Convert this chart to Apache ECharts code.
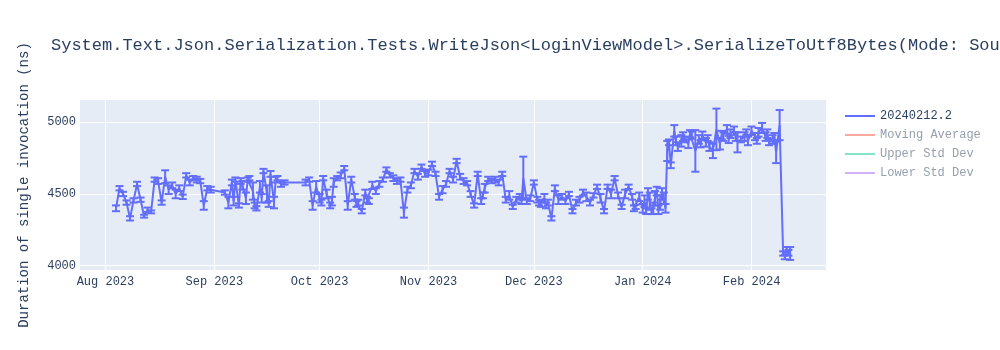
<!DOCTYPE html>
<html>
<head>
<meta charset="utf-8">
<script src="https://cdn.jsdelivr.net/npm/echarts@6/dist/echarts.min.js"></script>
<style>html,body{margin:0;padding:0;background:#fff;}#chart{width:1000px;height:350px;}</style>
</head>
<body>
<div id="chart"></div>
<script>
// ---- data: daily readings ----
const dates = [
  // Aug 2023
  '2023-08-04','2023-08-05','2023-08-06','2023-08-07','2023-08-08','2023-08-09','2023-08-10','2023-08-11','2023-08-12','2023-08-13',
  '2023-08-14','2023-08-15','2023-08-16','2023-08-17','2023-08-18','2023-08-19','2023-08-20','2023-08-21','2023-08-22','2023-08-23',
  '2023-08-24','2023-08-25','2023-08-26','2023-08-27','2023-08-28','2023-08-29','2023-08-30','2023-08-31',
  // Sep 2023
  '2023-09-04','2023-09-05','2023-09-06','2023-09-07','2023-09-08','2023-09-09','2023-09-10','2023-09-11','2023-09-12','2023-09-13',
  '2023-09-14','2023-09-15','2023-09-16','2023-09-17','2023-09-18','2023-09-19','2023-09-20','2023-09-21','2023-09-27','2023-09-28',
  '2023-09-29','2023-09-30',
  // Oct 2023
  '2023-10-01','2023-10-02','2023-10-03','2023-10-04','2023-10-05','2023-10-06','2023-10-07','2023-10-08','2023-10-09','2023-10-10',
  '2023-10-11','2023-10-12','2023-10-13','2023-10-14','2023-10-15','2023-10-16','2023-10-17','2023-10-18','2023-10-19','2023-10-20',
  '2023-10-21','2023-10-22','2023-10-23','2023-10-24','2023-10-25','2023-10-26','2023-10-27','2023-10-28','2023-10-29','2023-10-30',
  '2023-10-31',
  // Nov 2023
  '2023-11-01','2023-11-02','2023-11-03','2023-11-04','2023-11-05','2023-11-06','2023-11-07','2023-11-08','2023-11-09','2023-11-10',
  '2023-11-11','2023-11-12','2023-11-13','2023-11-14','2023-11-15','2023-11-16','2023-11-17','2023-11-18','2023-11-19','2023-11-20',
  '2023-11-21','2023-11-22','2023-11-23','2023-11-24','2023-11-25','2023-11-26','2023-11-27','2023-11-28','2023-11-29','2023-11-30',
  // Dec 2023
  '2023-12-01','2023-12-02','2023-12-03','2023-12-04','2023-12-05','2023-12-06','2023-12-07','2023-12-08','2023-12-09','2023-12-10',
  '2023-12-11','2023-12-12','2023-12-13','2023-12-14','2023-12-15','2023-12-16','2023-12-17','2023-12-18','2023-12-19','2023-12-20',
  '2023-12-21','2023-12-22','2023-12-23','2023-12-24','2023-12-25','2023-12-26','2023-12-27','2023-12-28','2023-12-29','2023-12-30',
  '2023-12-31',
  // Jan 2024
  '2024-01-01','2024-01-02','2024-01-03','2024-01-04','2024-01-05','2024-01-06','2024-01-07','2024-01-08','2024-01-09','2024-01-10',
  '2024-01-11','2024-01-12','2024-01-13','2024-01-14','2024-01-15','2024-01-16','2024-01-17','2024-01-18','2024-01-19','2024-01-20',
  '2024-01-21','2024-01-22','2024-01-23','2024-01-24','2024-01-25','2024-01-26','2024-01-27','2024-01-28','2024-01-29','2024-01-30',
  '2024-01-31',
  // Feb 2024
  '2024-02-01','2024-02-02','2024-02-03','2024-02-04','2024-02-05','2024-02-06','2024-02-07','2024-02-08','2024-02-09','2024-02-10',
  '2024-02-11','2024-02-12'
];
const values = [
  // Aug
  4400,4540,4500,4440,4330,4455,4570,4460,4345,4390,
  4375,4600,4590,4440,4620,4530,4560,4500,4540,4480,
  4630,4580,4610,4600,4590,4420,4540,4530,
  // Sep
  4510,4440,4580,4600,4420,4560,4470,4610,4520,4400,
  4550,4660,4500,4640,4440,4610,4570,4580,4580,4600,
  4420,4550,
  // Oct
  4470,4610,4500,4420,4580,4610,4630,4680,4420,4600,
  4480,4440,4380,4510,4450,4560,4520,4570,4600,4670,
  4630,4610,4590,4600,4370,4530,4560,4660,4620,4690,
  4640,
  // Nov
  4650,4710,4640,4480,4530,4570,4660,4600,4730,4620,
  4590,4575,4500,4420,4640,4450,4540,4605,4590,4600,
  4580,4640,4460,4490,4410,4460,4480,4610,4450,4470,
  // Dec
  4580,4460,4430,4470,4440,4330,4540,4460,4480,4450,
  4500,4380,4440,4460,4510,4480,4440,4490,4550,4470,
  4380,4550,4500,4610,4490,4410,4500,4550,4480,4410,
  4480,
  // Jan
  4400,4380,4450,4400,4520,4440,4470,4800,4700,4940,
  4830,4870,4880,4850,4910,4800,4880,4910,4860,4830,
  4800,4950,4850,4900,4950,4920,4940,4860,4880,4900,
  4870,
  // Feb
  4940,4900,4930,4960,4900,4860,4880,4790,4980,4085,
  4110,4085
];
const errors = [
  // Aug
  20,15,15,15,15,15,15,15,10,15,
  10,15,20,15,45,30,20,30,20,15,
  15,20,15,20,15,30,15,20,
  // Sep
  15,40,20,15,15,30,40,15,60,15,
  40,15,60,20,40,15,20,15,20,15,
  30,40,
  // Oct
  30,15,30,20,30,15,20,15,30,20,
  20,20,15,20,20,25,20,20,15,15,
  15,20,20,15,35,20,20,15,20,15,
  20,
  // Nov
  20,15,15,20,25,20,15,20,15,20,
  20,15,20,15,15,20,30,15,15,20,
  20,15,20,30,15,20,20,150,20,20,
  // Dec
  15,20,20,30,20,15,20,30,20,20,
  15,15,20,20,20,30,20,15,15,30,
  15,15,30,15,20,15,30,15,20,15,
  30,
  // Jan
  30,20,60,40,30,50,40,70,20,40,
  30,40,20,30,25,145,30,25,30,30,
  50,145,40,30,30,30,30,70,20,30,
  30,
  // Feb
  30,25,30,35,30,20,30,75,105,15,
  20,45
];
// ---- data: extra mid-day readings on busy days ----
const extraDates = [
  '2023-09-06 12','2023-09-08 12','2023-09-10 12','2023-09-12 12','2023-09-14 12','2023-09-16 12','2023-09-18 12',
  '2023-10-01 12','2023-10-04 12','2023-10-11 12','2023-10-14 12',
  '2023-11-16 12','2023-11-27 12',
  '2023-12-02 12','2023-12-04 12','2023-12-29 12',
  '2024-01-01 12','2024-01-02 12','2024-01-03 12','2024-01-04 12','2024-01-05 12','2024-01-06 12','2024-01-07 12',
  '2024-01-08 12','2024-01-10 12','2024-01-12 12','2024-01-14 12','2024-01-17 12','2024-01-19 12','2024-01-23 12',
  '2024-01-25 12','2024-01-27 12','2024-01-30 12','2024-02-02 12','2024-02-05 12','2024-02-07 12',
  '2024-02-10 12','2024-02-11 12'
];
const extraValues = [
  4450,4590,4600,4420,4470,4430,4600,
  4440,4450,4430,4460,
  4490,4450,
  4440,4420,4400,
  4450,4500,4380,4470,4390,4500,4400,
  4860,4870,4900,4920,4850,4890,4910,
  4880,4900,4930,4870,4920,4900,
  4060,4090
];
const extraErrors = [
  30,20,15,20,30,20,20,
  20,30,20,20,
  20,20,
  20,20,20,
  40,40,20,50,30,40,30,
  20,30,30,25,25,20,30,
  25,30,20,20,30,25,
  15,20
];
const xTicks = ['2023-08-01','2023-09-01','2023-10-01','2023-11-01','2023-12-01','2024-01-01','2024-02-01'];
const xTickLabels = ['Aug 2023','Sep 2023','Oct 2023','Nov 2023','Dec 2023','Jan 2024','Feb 2024'];
const yTicks = [4000, 4500, 5000];
const seriesNames = ['20240212.2', 'Moving Average', 'Upper Std Dev', 'Lower Std Dev'];
const titleText = 'System.Text.Json.Serialization.Tests.WriteJson<LoginViewModel>.SerializeToUtf8Bytes(Mode: SourceGen)';

// ---- chart ----
const FONT = '"Liberation Mono", "Courier New", monospace';
const MAIN = '#636efa';
const TXT = '#2a3f5f';
const FADED_TXT = '#959fae';

function ts(s) {
  const parts = s.split(' ');
  const p = parts[0].split('-').map(Number);
  const h = parts[1] ? Number(parts[1]) : 0;
  return Date.UTC(p[0], p[1] - 1, p[2], h);
}
const xTickTs = xTicks.map(ts);

const rows = dates.map((d, i) => [ts(d), values[i], errors[i]])
  .concat(extraDates.map((d, i) => [ts(d), extraValues[i], extraErrors[i]]))
  .sort((a, b) => a[0] - b[0]);
const lineData = rows.map(r => [r[0], r[1]]);
const errData = rows.map(r => [r[0], r[1] - r[2], r[1] + r[2]]);

const chart = echarts.init(document.getElementById('chart'), null, { renderer: 'canvas' });
chart.setOption({
  animation: false,
  backgroundColor: '#ffffff',
  textStyle: { fontFamily: FONT },
  title: {
    text: titleText,
    left: 51, top: 37, padding: 0,
    textStyle: { fontFamily: FONT, fontSize: 17, fontWeight: 'normal', color: TXT }
  },
  legend: {
    orient: 'vertical',
    left: 845, top: 109, padding: 0,
    itemWidth: 30, itemHeight: 2, itemGap: 5,
    selectedMode: false,
    icon: 'rect',
    textStyle: { fontFamily: FONT, fontSize: 12, lineHeight: 14, color: TXT },
    data: [
      { name: seriesNames[0], itemStyle: { color: MAIN }, textStyle: { color: TXT } },
      { name: seriesNames[1], itemStyle: { color: '#f7aa9d' }, textStyle: { color: FADED_TXT } },
      { name: seriesNames[2], itemStyle: { color: '#80e5ca' }, textStyle: { color: FADED_TXT } },
      { name: seriesNames[3], itemStyle: { color: '#d5b1fc' }, textStyle: { color: FADED_TXT } }
    ]
  },
  grid: {
    left: 80, right: 174, top: 100, bottom: 80,
    show: true, backgroundColor: '#E5ECF6', borderWidth: 0
  },
  xAxis: {
    type: 'value',
    min: Date.UTC(2023, 6, 24, 18),
    max: Date.UTC(2024, 1, 22, 5),
    axisLine: { show: false },
    axisTick: { show: false, customValues: xTickTs },
    splitLine: { show: true, lineStyle: { color: '#ffffff', width: 1 } },
    axisLabel: {
      customValues: xTickTs,
      fontFamily: FONT, fontSize: 12, color: TXT, margin: 6,
      formatter: function (v) {
        const i = xTickTs.indexOf(v);
        return i >= 0 ? xTickLabels[i] : '';
      }
    }
  },
  yAxis: {
    type: 'value',
    min: 3970, max: 5155,
    name: 'Duration of single invocation (ns)',
    nameLocation: 'middle', nameGap: 49, nameRotate: 90,
    nameTextStyle: { fontFamily: FONT, fontSize: 14, color: TXT },
    axisLine: { show: false },
    axisTick: { show: false, customValues: yTicks },
    splitLine: { show: true, lineStyle: { color: '#ffffff', width: 1 } },
    axisLabel: {
      customValues: yTicks, fontFamily: FONT, fontSize: 12, color: TXT, margin: 4,
      formatter: function (v) { return String(v); }
    }
  },
  series: [
    {
      name: seriesNames[0], type: 'line', data: lineData,
      showSymbol: false, symbol: 'none',
      lineStyle: { color: MAIN, width: 2 }, itemStyle: { color: MAIN },
      z: 3
    },
    {
      name: seriesNames[0], type: 'custom', data: errData,
      encode: { x: 0, y: [1, 2] },
      clip: true, z: 4,
      renderItem: function (params, api) {
        const x = api.value(0);
        const lo = api.coord([x, api.value(1)]);
        const hi = api.coord([x, api.value(2)]);
        const w = 4;
        const st = { stroke: MAIN, lineWidth: 2 };
        return {
          type: 'group',
          children: [
            { type: 'line', shape: { x1: lo[0], y1: lo[1], x2: hi[0], y2: hi[1] }, style: st },
            { type: 'line', shape: { x1: lo[0] - w, y1: lo[1], x2: lo[0] + w, y2: lo[1] }, style: st },
            { type: 'line', shape: { x1: hi[0] - w, y1: hi[1], x2: hi[0] + w, y2: hi[1] }, style: st }
          ]
        };
      }
    },
    { name: seriesNames[1], type: 'line', data: [], lineStyle: { color: '#f7aa9d' }, itemStyle: { color: '#f7aa9d' } },
    { name: seriesNames[2], type: 'line', data: [], lineStyle: { color: '#80e5ca' }, itemStyle: { color: '#80e5ca' } },
    { name: seriesNames[3], type: 'line', data: [], lineStyle: { color: '#d5b1fc' }, itemStyle: { color: '#d5b1fc' } }
  ]
});
</script>
</body>
</html>
